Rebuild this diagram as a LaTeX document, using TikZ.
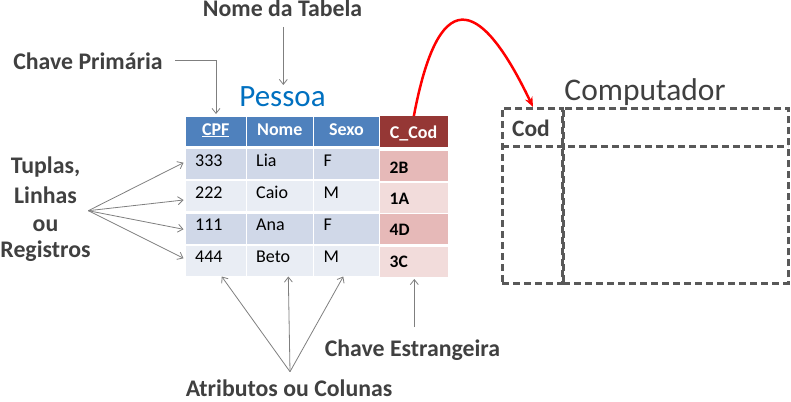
\documentclass[tikz,border=0pt]{standalone}
\usepackage{fontspec}
\setmainfont{Carlito}
\usetikzlibrary{arrows.meta}
\definecolor{hdr}{HTML}{4F81BD}
\definecolor{rowA}{HTML}{D0D8E8}
\definecolor{rowB}{HTML}{E9EDF4}
\definecolor{fkh}{HTML}{953735}
\definecolor{fkA}{HTML}{E6B9B8}
\definecolor{fkB}{HTML}{F2DCDB}
\definecolor{lbl}{HTML}{404040}
\definecolor{ttl}{HTML}{0070C0}
\definecolor{dsh}{HTML}{595959}
\definecolor{arr}{HTML}{7F7F7F}
\begin{document}
\begin{tikzpicture}[x=1pt,y=-1pt,
  cell/.style={draw=none,inner sep=0,outer sep=0},
  lab/.style={text=lbl,font=\fontsize{23.8}{28}\selectfont\bfseries,anchor=base,inner sep=0},
  body/.style={font=\fontsize{18}{21}\selectfont,anchor=base west,inner sep=0},
  head/.style={text=white,font=\fontsize{18}{21}\selectfont\bfseries,anchor=base,inner sep=0},
  fkval/.style={font=\fontsize{17.5}{21}\selectfont\bfseries,anchor=base west,inner sep=0},
  ptr/.style={draw=arr,line width=0.8pt,-{Straight Barb[length=5pt,width=8pt]}},
  dline/.style={draw=dsh,line width=2.5pt,dash pattern=on 7pt off 4pt},
  dbox/.style={dline,inner sep=0,outer sep=0}]
\useasboundingbox (0,0) rectangle (791,401);

% header cells
\node[cell,fill=hdr,minimum width=60pt,minimum height=29pt] (hCPF) at (215.7,131.2) {};
\node[cell,fill=hdr,minimum width=65.7pt,minimum height=29pt] (hNome) at (279.85,131.2) {};
\node[cell,fill=hdr,minimum width=65pt,minimum height=29pt] (hSexo) at (346.5,131.2) {};
\node[cell,fill=fkh,minimum width=67.7pt,minimum height=30.7pt] (hFK) at (413.85,131.35) {};

% body cells
\foreach \r/\cy/\col in {1/164.3/rowA,2/196.4/rowB,3/228.5/rowA,4/260.9/rowB}{
  \node[cell,fill=\col,minimum width=60pt,minimum height=30pt] (c\r a) at (215.7,\cy) {};
  \node[cell,fill=\col,minimum width=65.7pt,minimum height=30pt] (c\r b) at (279.85,\cy) {};
  \node[cell,fill=\col,minimum width=65pt,minimum height=30pt] (c\r c) at (346.5,\cy) {};
}
\foreach \r/\cy/\col in {1/165.7/fkA,2/197.7/fkB,3/229.2/fkA,4/261.7/fkB}{
  \node[cell,fill=\col,minimum width=67.7pt,minimum height=30pt] (c\r d) at (413.85,\cy) {};
}

% header text
\node[head] (tCPF) at (215.7,135) {\underline{CPF}};
\node[head] (tNome) at (279.8,135) {Nome};
\node[head] (tSexo) at (346.5,135) {Sexo};
\node[head] (tFK) at (413.5,138.3) {C\_Cod};

% body text
\foreach \r/\by/\a/\b/\c in {1/166.7/333/Lia/F,2/198.5/222/Caio/M,3/230.7/111/Ana/F,4/262.8/444/Beto/M}{
  \node[body] (ta\r) at (195,\by) {\a};
  \node[body] (tb\r) at (256,\by) {\b};
  \node[body] (tc\r) at (323.3,\by) {\c};
}
\foreach \r/\by/\v in {1/173.3/2B,2/204/1A,3/235.5/4D,4/267.3/3C}{
  \node[fkval] (td\r) at (389.5,\by) {\v};
}

% titles
\node[text=ttl,font=\fontsize{31}{36}\selectfont,anchor=base,inner sep=0] (pes) at (282.5,106.7) {Pessoa};
\node[text=lbl,font=\fontsize{31.5}{36}\selectfont,anchor=base,inner sep=0] (comp) at (645,100) {Computador};

% Computador table
\node[dbox,minimum width=60pt,minimum height=175pt] (codbox) at (532.3,195.8) {};
\node[dbox,minimum width=225pt,minimum height=175pt] (restbox) at (675.8,195.8) {};
\draw[dline] (codbox.west |- 0,146.7) -- (restbox.east |- 0,146.7);
\node[text=lbl,font=\fontsize{23.5}{27}\selectfont\bfseries,anchor=base,inner sep=0] (cod) at (531,136.3) {Cod};

% labels
\node[lab] (lnt) at (282.5,16.7) {Nome da Tabela};
\node[lab] (lcp) at (88,69.3) {Chave Primária};
\node[lab] (lt1) at (45.5,173.3) {Tuplas,};
\node[lab] (lt2) at (45.5,203.3) {Linhas};
\node[lab] (lt3) at (45.5,231) {ou};
\node[lab] (lt4) at (45.5,257.3) {Registros};
\node[lab] (lce) at (412.5,356) {Chave Estrangeira};
\node[lab] (lat) at (289,396.8) {Atributos ou Colunas};

% pointer coordinates
\coordinate (ntS) at (283.3,27);
\coordinate (ntE) at (283.3,85);
\coordinate (cpS) at (175,60.7);
\coordinate (cpE) at (216,114);
\coordinate (tpO) at (88.3,210.7);
\coordinate (tp1) at (183.5,162.7);
\coordinate (tp2) at (183.5,200);
\coordinate (tp3) at (183.5,229.3);
\coordinate (tp4) at (183.5,258.3);
\coordinate (atO) at (290,371.7);
\coordinate (at1) at (221.7,276.5);
\coordinate (at2) at (288.3,276.5);
\coordinate (at3) at (343.3,276.5);
\coordinate (ceS) at (414.3,327);
\coordinate (ceE) at (414.3,279);
\coordinate (fkE) at (533,107);

% pointers
\draw[ptr] (ntS) -- (ntE);
\draw[ptr] (cpS) -| (cpE);
\foreach \t in {tp1,tp2,tp3,tp4} \draw[ptr] (tpO) -- (\t);
\foreach \t in {at1,at2,at3} \draw[ptr] (atO) -- (\t);
\draw[ptr] (ceS) -- (ceE);

% red foreign key arrow
\draw[red,line width=2.5pt,-{Stealth[length=10pt,width=8pt]}] (hFK.north) .. controls (438,-12) and (478,-8) .. (fkE);
\end{tikzpicture}
\end{document}
